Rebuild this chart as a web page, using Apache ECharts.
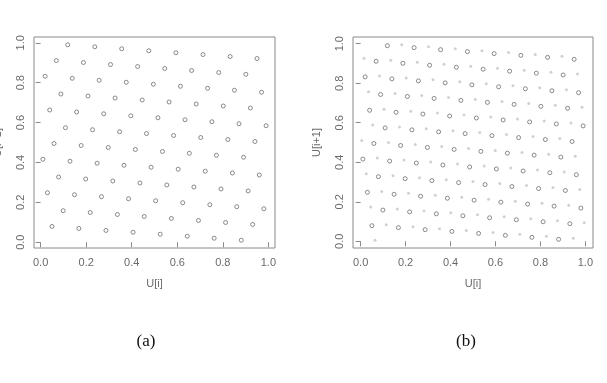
<!DOCTYPE html>
<html><head><meta charset="utf-8">
<script src="https://cdn.jsdelivr.net/npm/echarts@6/dist/echarts.min.js"></script>
<style>html,body{margin:0;padding:0;background:#fff}#c{width:607px;height:383px}</style>
</head><body><div id="c"></div>
<script>
var tickValues = [0, 0.2, 0.4, 0.6, 0.8, 1.0];
var xLabel = 'U[i]';
var yLabel = 'U[i+1]';
var captions = ['(a)', '(b)'];

// Panel (a) and dark circles of panel (b): U[i], U[i+1]
var circX = [0.010,0.020,0.030,0.040,0.050,0.059,0.069,0.079,0.089,0.099,
 0.109,0.119,0.129,0.139,0.149,0.158,0.168,0.178,0.188,0.198,
 0.208,0.218,0.228,0.238,0.248,0.257,0.267,0.277,0.287,0.297,
 0.307,0.317,0.327,0.337,0.347,0.356,0.366,0.376,0.386,0.396,
 0.406,0.416,0.426,0.436,0.446,0.455,0.465,0.475,0.485,0.495,
 0.505,0.515,0.525,0.535,0.545,0.554,0.564,0.574,0.584,0.594,
 0.604,0.614,0.624,0.634,0.644,0.653,0.663,0.673,0.683,0.693,
 0.703,0.713,0.723,0.733,0.743,0.752,0.762,0.772,0.782,0.792,
 0.802,0.812,0.822,0.832,0.842,0.851,0.861,0.871,0.881,0.891,
 0.901,0.911,0.921,0.931,0.941,0.950,0.960,0.970,0.980,0.990];
var circY = [0.416,0.832,0.248,0.663,0.079,0.495,0.911,0.327,0.743,0.158,
 0.574,0.990,0.406,0.822,0.238,0.653,0.069,0.485,0.901,0.317,
 0.733,0.149,0.564,0.980,0.396,0.812,0.228,0.644,0.059,0.475,
 0.891,0.307,0.723,0.139,0.554,0.970,0.386,0.802,0.218,0.634,
 0.050,0.465,0.881,0.297,0.713,0.129,0.545,0.960,0.376,0.792,
 0.208,0.624,0.040,0.455,0.871,0.287,0.703,0.119,0.535,0.950,
 0.366,0.782,0.198,0.614,0.030,0.446,0.861,0.277,0.693,0.109,
 0.525,0.941,0.356,0.772,0.188,0.604,0.020,0.436,0.851,0.267,
 0.683,0.099,0.515,0.931,0.347,0.762,0.178,0.594,0.010,0.426,
 0.842,0.257,0.673,0.089,0.505,0.921,0.337,0.752,0.168,0.584];

// Panel (b) light points
var lightX = [0.005,0.015,0.025,0.035,0.045,0.054,0.064,0.074,0.084,0.094,
 0.104,0.114,0.124,0.134,0.144,0.153,0.163,0.173,0.183,0.193,
 0.203,0.213,0.223,0.233,0.243,0.252,0.262,0.272,0.282,0.292,
 0.302,0.312,0.322,0.332,0.342,0.351,0.361,0.371,0.381,0.391,
 0.401,0.411,0.421,0.431,0.441,0.450,0.460,0.470,0.480,0.490,
 0.500,0.510,0.520,0.530,0.540,0.550,0.559,0.569,0.579,0.589,
 0.599,0.609,0.619,0.629,0.639,0.649,0.658,0.668,0.678,0.688,
 0.698,0.708,0.718,0.728,0.738,0.748,0.757,0.767,0.777,0.787,
 0.797,0.807,0.817,0.827,0.837,0.847,0.856,0.866,0.876,0.886,
 0.896,0.906,0.916,0.926,0.936,0.946,0.955,0.965,0.975,0.985,0.995];
var lightY = [0.510,0.926,0.342,0.757,0.173,0.589,0.005,0.421,0.837,0.252,
 0.668,0.084,0.500,0.916,0.332,0.748,0.163,0.579,0.995,0.411,
 0.827,0.243,0.658,0.074,0.490,0.906,0.322,0.738,0.153,0.569,
 0.985,0.401,0.817,0.233,0.649,0.064,0.480,0.896,0.312,0.728,
 0.144,0.559,0.975,0.391,0.807,0.223,0.639,0.054,0.470,0.886,
 0.302,0.718,0.134,0.550,0.965,0.381,0.797,0.213,0.629,0.045,
 0.460,0.876,0.292,0.708,0.124,0.540,0.955,0.371,0.787,0.203,
 0.619,0.035,0.450,0.866,0.282,0.698,0.114,0.530,0.946,0.361,
 0.777,0.193,0.609,0.025,0.441,0.856,0.272,0.688,0.104,0.520,
 0.936,0.351,0.767,0.183,0.599,0.015,0.431,0.847,0.262,0.678,0.094];

function pairs(xs, ys){ return xs.map(function(v,i){ return [v, ys[i]]; }); }

var axisColor = '#8a8a8a', textColor = '#6a6a6a';
function mkX(idx, min, max){
  return {type:'value', gridIndex:idx, min:min, max:max,
    name:xLabel, nameLocation:'middle', nameGap:30,
    nameTextStyle:{color:textColor, fontSize:11, fontFamily:'Liberation Sans'},
    axisLine:{show:false}, splitLine:{show:false},
    axisTick:{show:true, inside:false, length:5, customValues:tickValues, lineStyle:{color:axisColor}},
    axisLabel:{customValues:tickValues, margin:9, color:textColor, fontSize:11, fontFamily:'Liberation Sans',
      formatter:function(v){return v.toFixed(1);}}};
}
function mkY(idx, min, max){
  return {type:'value', gridIndex:idx, min:min, max:max,
    name:yLabel, nameLocation:'middle', nameGap:31, nameRotate:90,
    nameTextStyle:{color:textColor, fontSize:11, fontFamily:'Liberation Sans'},
    axisLine:{show:false}, splitLine:{show:false},
    axisTick:{show:true, inside:false, length:5, customValues:tickValues, lineStyle:{color:axisColor}},
    axisLabel:{customValues:tickValues, margin:8, rotate:90, color:textColor, fontSize:11, fontFamily:'Liberation Sans',
      formatter:function(v){return v.toFixed(1);}}};
}

var circStyle = {color:'#ffffff', borderColor:'#6e6e6e', borderWidth:1};

var chart = echarts.init(document.getElementById('c'), null, {renderer:'canvas'});
chart.setOption({
  animation:false,
  backgroundColor:'#ffffff',
  grid:[
    {left:34, top:37, width:241, height:211, show:true, borderColor:axisColor, borderWidth:1, backgroundColor:'transparent', containLabel:false, outerBoundsMode:'none'},
    {left:353, top:37, width:240, height:211, show:true, borderColor:axisColor, borderWidth:1, backgroundColor:'transparent', containLabel:false, outerBoundsMode:'none'}
  ],
  xAxis:[mkX(0,-0.029,1.029), mkX(1,-0.034,1.034)],
  yAxis:[mkY(0,-0.029,1.029), mkY(1,-0.034,1.034)],
  graphic:[
    {type:'text', x:146, y:342, style:{text:captions[0], font:'17px "Liberation Serif"', fill:'#111', textAlign:'center', textVerticalAlign:'middle'}},
    {type:'text', x:466, y:342, style:{text:captions[1], font:'17px "Liberation Serif"', fill:'#111', textAlign:'center', textVerticalAlign:'middle'}}
  ],
  series:[
    {type:'scatter', xAxisIndex:0, yAxisIndex:0, data:pairs(circX, circY), symbol:'circle', symbolSize:4, itemStyle:circStyle, silent:true},
    {type:'scatter', xAxisIndex:1, yAxisIndex:1, data:pairs(lightX, lightY), symbol:'circle', symbolSize:3, itemStyle:{color:'#c6c6c6'}, silent:true},
    {type:'scatter', xAxisIndex:1, yAxisIndex:1, data:pairs(circX, circY), symbol:'circle', symbolSize:4, itemStyle:circStyle, silent:true}
  ]
});
</script></body></html>
